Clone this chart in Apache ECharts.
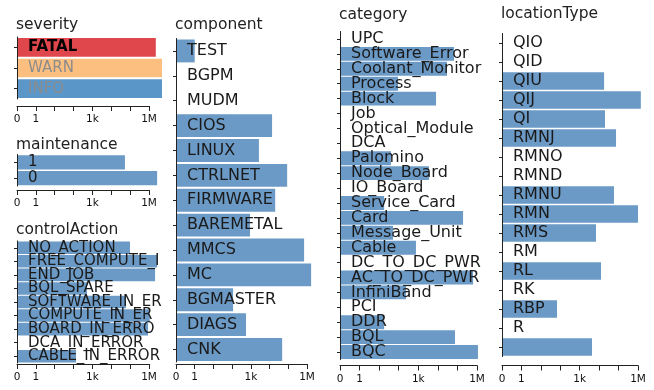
<!DOCTYPE html>
<html><head><meta charset="utf-8">
<script src="https://cdn.jsdelivr.net/npm/echarts@6/dist/echarts.min.js"></script>
<style>html,body{margin:0;padding:0;background:#fff}#c{width:654px;height:390px}</style>
</head><body><div id="c"></div>
<script>
// ---- data ----
const severityCats = ['FATAL', 'WARN', 'INFO'];
const severityVals = [2300000, 4900000, 4900000];
const maintenanceCats = ['1', '0'];
const maintenanceVals = [53000, 2700000];
const controlActionCats = ['NO_ACTION', 'FREE_COMPUTE_IN_ERROR', 'END_JOB', 'BQL_SPARE', 'SOFTWARE_IN_ERROR', 'COMPUTE_IN_ERROR', 'BOARD_IN_ERROR', 'DCA_IN_ERROR', 'CABLE_IN_ERROR'];
const controlActionVals = [98000, 2700000, 2100000, 515, 60000, 1100000, 890000, null, 135];
const componentCats = ['TEST', 'BGPM', 'MUDM', 'CIOS', 'LINUX', 'CTRLNET', 'FIRMWARE', 'BAREMETAL', 'MMCS', 'MC', 'BGMASTER', 'DIAGS', 'CNK'];
const componentVals = [1, null, null, 13600, 2700, 87000, 20000, 900, 700000, 1660000, 112, 550, 47000];
const categoryCats = ['UPC', 'Software_Error', 'Coolant_Monitor', 'Process', 'Block', 'Job', 'Optical_Module', 'DCA', 'Palomino', 'Node_Board', 'IO_Board', 'Service_Card', 'Card', 'Message_Unit', 'Cable', 'DC_TO_DC_PWR', 'AC_TO_DC_PWR', 'InfiniBand', 'PCI', 'DDR', 'BQL', 'BQC'];
const categoryVals = [null, 67000, 29400, 92, 8100, null, null, null, 40, 3500, null, 18, 194000, 51, 760, null, 630000, 236, null, 18, 75000, 1120000];
const locationTypeCats = ['QIO', 'QID', 'QIU', 'QIJ', 'QI', 'RMNJ', 'RMNO', 'RMND', 'RMNU', 'RMN', 'RMS', 'RM', 'RL', 'RK', 'RBP', 'R', ''];
const locationTypeVals = [null, null, 18000, 1400000, 20000, 74000, null, null, 58000, 1000000, 6900, null, 12500, null, 68, null, 4300];
const tickLabels = {'-1': '0', '0': '1', '3': '1k', '6': '1M'};

// ---- styles / layout ----
const BLUE = '#6b9ac6';
const severityColors = {FATAL: '#e0474c', WARN: '#fdbf80', INFO: '#5b96c8'};
const severityLabelStyle = {FATAL: {fontWeight: 'bold', color: '#000'}, WARN: {color: '#8c8c8c'}, INFO: {color: '#8c8c8c'}};

const panels = [
  {title: 'severity', cats: severityCats, vals: severityVals, left: 17, width: 132, top: 37, height: 62, offset: 7, titleTop: 17, fs: 15, lw: 135, gap: 2},
  {title: 'maintenance', cats: maintenanceCats, vals: maintenanceVals, left: 17, width: 132, top: 154.5, height: 31.5, offset: 4, titleTop: 137, fs: 15, lw: 135, gap: 1.5},
  {title: 'controlAction', cats: controlActionCats, vals: controlActionVals, left: 17, width: 132, top: 241, height: 122, offset: 1, titleTop: 222, fs: 15, lw: 135, gap: 1},
  {title: 'component', cats: componentCats, vals: componentVals, left: 176, width: 131, top: 38.5, height: 323.5, offset: 2, titleTop: 17, fs: 16, lw: 400, gap: 2},
  {title: 'category', cats: categoryCats, vals: categoryVals, left: 340, width: 137, top: 31.5, height: 328, offset: 6, titleTop: 6.5, fs: 16, lw: 400, gap: 1},
  {title: 'locationType', cats: locationTypeCats, vals: locationTypeVals, left: 502, width: 136, top: 33.5, height: 323, offset: 9, titleTop: 6, fs: 16, lw: 400, gap: 1.3}
];

const option = {
  animation: false,
  backgroundColor: '#fff',
  textStyle: {fontFamily: 'DejaVu Sans'},
  title: [], grid: [], xAxis: [], yAxis: [], series: []
};

panels.forEach((p, i) => {
  option.title.push({
    text: p.title, left: p.left - 1, top: p.titleTop, padding: 0,
    textStyle: {fontFamily: 'DejaVu Sans', fontSize: 15.5, fontWeight: 'normal', color: '#222'}
  });
  option.grid.push({left: p.left, top: p.top, width: p.width, height: p.height, containLabel: false});
  option.xAxis.push({
    type: 'log', logBase: 10, min: 0.1, max: 1e6, startValue: 0.1, gridIndex: i,
    position: 'bottom', offset: p.offset,
    axisLine: {show: true, lineStyle: {color: '#222', width: 1}},
    axisTick: {show: true, length: 5, lineStyle: {color: '#222'}},
    minorTick: {show: false},
    splitLine: {show: false},
    axisLabel: {
      fontFamily: 'DejaVu Sans', fontSize: 10.5, color: '#111', margin: 8,
      formatter: v => { const k = String(Math.round(Math.log10(v))); return tickLabels[k] !== undefined ? tickLabels[k] : ''; }
    }
  });
  option.yAxis.push({
    type: 'category', gridIndex: i, inverse: true, z: 5,
    data: p.cats.map(c => {
      const st = (p.title === 'severity') ? severityLabelStyle[c] : null;
      return st ? {value: c, textStyle: st} : c;
    }),
    axisLine: {show: true, lineStyle: {color: '#222', width: 1}},
    axisTick: {show: true, alignWithLabel: true, length: 3, inside: false, lineStyle: {color: '#222'}},
    splitLine: {show: false},
    axisLabel: {
      inside: true, margin: 11, fontFamily: 'DejaVu Sans', fontSize: p.fs, color: '#1a1a1a',
      width: p.lw, overflow: 'truncate', ellipsis: '', interval: 0
    }
  });
  option.series.push({
    type: 'bar', xAxisIndex: i, yAxisIndex: i, clip: false, silent: true,
    barCategoryGap: p.gap,
    data: p.vals.map((v, j) => {
      if (p.title === 'severity') return {value: v, itemStyle: {color: severityColors[p.cats[j]]}};
      return v;
    }),
    itemStyle: {color: BLUE}
  });
});

const chart = echarts.init(document.getElementById('c'), null, {renderer: 'canvas'});
chart.setOption(option);
</script>
</body></html>
